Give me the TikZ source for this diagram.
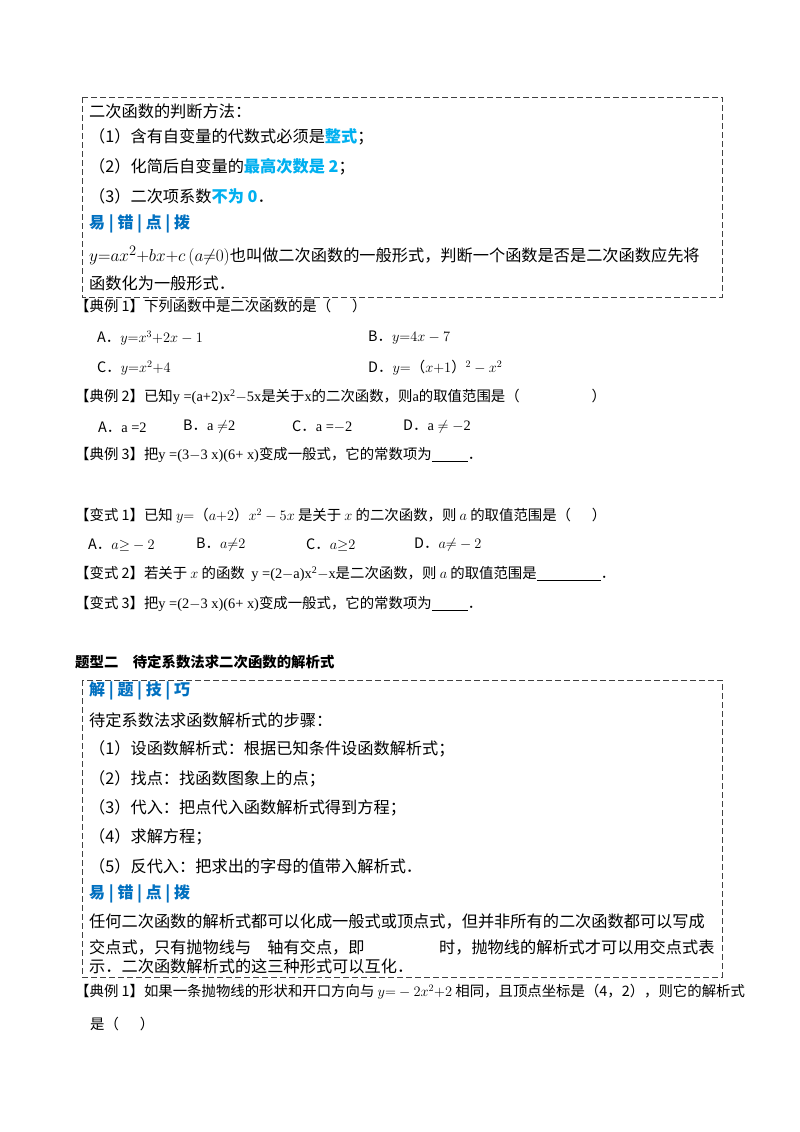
\documentclass[tikz,border=0pt]{standalone}
\usepackage{amsmath}
\usepackage{fontspec}
\setmainfont{Noto Sans CJK SC}
\newfontfamily\lat{Liberation Serif}
\definecolor{hl}{RGB}{0,176,240}
\definecolor{hd}{RGB}{0,112,192}
\begin{document}
\begin{tikzpicture}[x=1pt,y=-1pt,
  bx/.style={anchor=west,inner sep=0pt,font=\fontsize{16.2}{18}\selectfont},
  ex/.style={anchor=west,inner sep=0pt,font=\fontsize{14.4}{16}\selectfont},
  dbox/.style={draw=black!75,dashed,dash pattern=on 6pt off 3pt,line width=0.8pt}]
\useasboundingbox[fill=white] (0,0) rectangle (800,1132);
\draw[dbox] (82,97) rectangle (722,297);
\draw[dbox] (82,680) rectangle (722,977);
\node[bx] (a1) at (89,111) {二次函数的判断方法：};
\node[bx] (a2) at (89,137) {（1）含有自变量的代数式必须是\textcolor{hl}{\bfseries 整式}；};
\node[bx] (a3) at (89,167) {（2）化简后自变量的\textcolor{hl}{\bfseries 最高次数是 2}；};
\node[bx] (a4) at (89,196) {（3）二次项系数\textcolor{hl}{\bfseries 不为 0}．};
\node[bx,text=hd,font=\fontsize{16}{18}\selectfont\bfseries] (a5) at (89,224) {易 | 错 | 点 | 拨};
\node[bx] (a6) at (89,256) {{\fontsize{19}{20}\selectfont$y{=}ax^2{+}bx{+}c\left(a{\neq}0\right)$}也叫做二次函数的一般形式，判断一个函数是否是二次函数应先将};
\node[bx] (a7) at (89,283) {函数化为一般形式．};
\node[ex] (e1) at (75,306) {【典例 1】下列函数中是二次函数的是（\quad\ \ ）};
\node[ex] (e1a) at (97,338) {A．$y{=}x^3{+}2x-1$};
\node[ex] (e1b) at (368,338) {B．$y{=}4x-7$};
\node[ex] (e1c) at (97,368) {C．$y{=}x^2{+}4$};
\node[ex] (e1d) at (368,368) {D．$y{=}$（$x{+}1$）$^2-x^2$};
\node[ex] (e2) at (75,397) {【典例 2】已知{\lat y =(a+2)x\textsuperscript{2}$-$5x}是关于{\lat x}的二次函数，则{\lat a}的取值范围是（\hspace{5em}）};
\node[ex] (e2a) at (98,427) {A．{\lat a =2}};
\node[ex] (e2b) at (183,427) {B．{\lat a $\neq$2}};
\node[ex] (e2c) at (292,427) {C．{\lat a =$-$2}};
\node[ex] (e2d) at (403,427) {D．{\lat a $\neq-$2}};
\node[ex] (e3) at (75,455) {【典例 3】把{\lat y =(3$-$3 x)(6+ x)}变成一般式，它的常数项为\rule[-2pt]{36pt}{0.8pt}．};
\node[ex] (v1) at (75,516) {【变式 1】已知 $y{=}$（$a{+}2$）$x^2-5x$ 是关于 $x$ 的二次函数，则 $a$ 的取值范围是（\quad\ \ ）};
\node[ex] (v1a) at (88,545) {A．$a{\geq}-2$};
\node[ex] (v1b) at (196,545) {B．$a{\neq}2$};
\node[ex] (v1c) at (306,545) {C．$a{\geq}2$};
\node[ex] (v1d) at (414,545) {D．$a{\neq}-2$};
\node[ex] (v2) at (75,574) {【变式 2】若关于 $x$ 的函数 \ {\lat y =(2$-$a)x\textsuperscript{2}$-$x}是二次函数，则 $a$ 的取值范围是\rule[-2pt]{64pt}{0.8pt}．};
\node[ex] (v3) at (75,604) {【变式 3】把{\lat y =(2$-$3 x)(6+ x)}变成一般式，它的常数项为\rule[-2pt]{36pt}{0.8pt}．};
\node[ex,font=\fontsize{14.4}{16}\selectfont\bfseries] (t2) at (75,662) {题型二\quad 待定系数法求二次函数的解析式};
\node[bx,text=hd,font=\fontsize{16}{18}\selectfont\bfseries] (b0) at (89,691) {解 | 题 | 技 | 巧};
\node[bx] (b1) at (89,720) {待定系数法求函数解析式的步骤：};
\node[bx] (b2) at (89,749) {（1）设函数解析式：根据已知条件设函数解析式；};
\node[bx] (b3) at (89,779) {（2）找点：找函数图象上的点；};
\node[bx] (b4) at (89,808) {（3）代入：把点代入函数解析式得到方程；};
\node[bx] (b5) at (89,837) {（4）求解方程；};
\node[bx] (b6) at (89,866) {（5）反代入：把求出的字母的值带入解析式．};
\node[bx,text=hd,font=\fontsize{16}{18}\selectfont\bfseries] (b7) at (89,894) {易 | 错 | 点 | 拨};
\node[bx] (b8) at (89,922) {任何二次函数的解析式都可以化成一般式或顶点式，但并非所有的二次函数都可以写成};
\node[bx] (b9) at (89,947) {交点式，只有抛物线与\hspace{1em}轴有交点，即\hspace{4.6em}时，抛物线的解析式才可以用交点式表};
\node[bx] (b10) at (89,966) {示．二次函数解析式的这三种形式可以互化．};
\node[ex] (f1) at (75,992) {【典例 1】如果一条抛物线的形状和开口方向与 $y{=}-2x^2{+}2$ 相同，且顶点坐标是（4，2），则它的解析式};
\node[ex] (f2) at (90,1024) {是（\quad\ \ ）};
\end{tikzpicture}
\end{document}
